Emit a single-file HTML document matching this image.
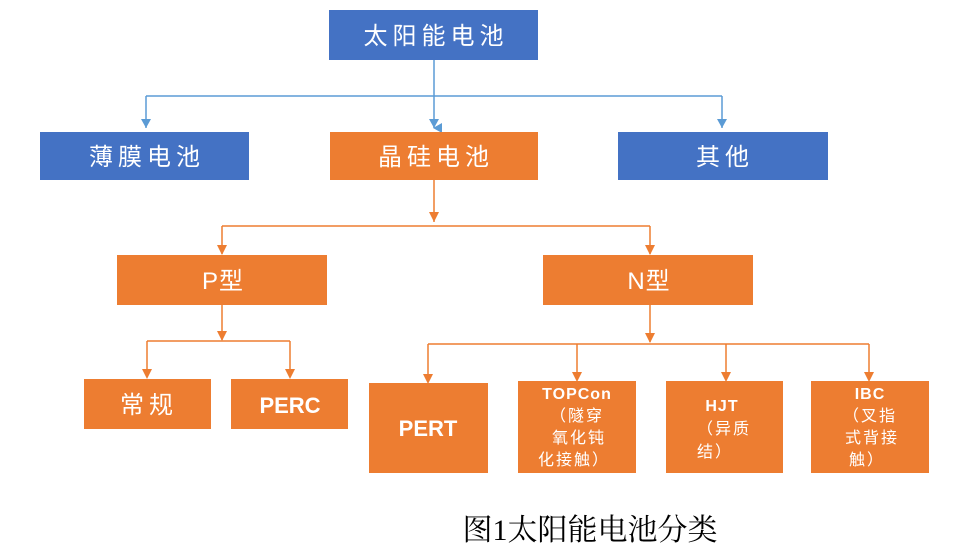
<!DOCTYPE html>
<html><head><meta charset="utf-8"><style>
html,body{margin:0;padding:0;background:#fff;}
svg{display:block}
text{font-family:"Liberation Sans","Noto Sans CJK SC",sans-serif;fill:#fff;text-anchor:middle;}
</style></head><body>
<svg width="968" height="552" viewBox="0 0 968 552" xmlns="http://www.w3.org/2000/svg">
<defs>
<marker id="ab" markerWidth="10" markerHeight="10" refX="5" refY="8" orient="auto" markerUnits="userSpaceOnUse"><path d="M0,0 L10,0 L5,9 Z" fill="#5B9BD5"/></marker>
<marker id="ao" markerWidth="10" markerHeight="10" refX="5" refY="8" orient="auto" markerUnits="userSpaceOnUse"><path d="M0,0 L10,0 L5,9 Z" fill="#ED7D31"/></marker>
</defs>
<g fill="none" stroke="#5B9BD5" stroke-width="1.5">
<path d="M434,60 V128" marker-end="url(#ab)" transform="translate(0,0)"/>
<path d="M146,96 H722"/>
<path d="M146,96 V128"/><path d="M722,96 V128"/>
</g>
<path d="M141,119 L151,119 L146,128 Z" fill="#5B9BD5"/>
<path d="M429,119 L439,119 L434,128 Z" fill="#5B9BD5"/>
<path d="M717,119 L727,119 L722,128 Z" fill="#5B9BD5"/>
<g fill="none" stroke="#ED7D31" stroke-width="1.5">
<path d="M434,180 V222"/>
<path d="M222,226 H650"/><path d="M222,226 V254"/><path d="M650,226 V254"/>
<path d="M222,305 V340"/>
<path d="M147,341 H290"/><path d="M147,341 V377"/><path d="M290,341 V377"/>
<path d="M650,305 V342"/>
<path d="M428,344 H869"/><path d="M428,344 V382"/><path d="M577,344 V380"/><path d="M726,344 V380"/><path d="M869,344 V380"/>
</g>
<g fill="#ED7D31">
<path d="M429,212 L439,212 L434,222 Z"/>
<path d="M217,245 L227,245 L222,255 Z"/><path d="M645,245 L655,245 L650,255 Z"/>
<path d="M217,331 L227,331 L222,341 Z"/>
<path d="M142,369 L152,369 L147,379 Z"/><path d="M285,369 L295,369 L290,379 Z"/>
<path d="M645,333 L655,333 L650,343 Z"/>
<path d="M423,374 L433,374 L428,384 Z"/><path d="M572,372 L582,372 L577,382 Z"/>
<path d="M721,372 L731,372 L726,382 Z"/><path d="M864,372 L874,372 L869,382 Z"/>
</g>
<rect x="329" y="10" width="209" height="50" fill="#4472C4"/>
<rect x="40" y="132" width="209" height="48" fill="#4472C4"/>
<rect x="330" y="132" width="208" height="48" fill="#ED7D31"/>
<rect x="618" y="132" width="210" height="48" fill="#4472C4"/>
<rect x="117" y="255" width="210" height="50" fill="#ED7D31"/>
<rect x="543" y="255" width="210" height="50" fill="#ED7D31"/>
<rect x="84" y="379" width="127" height="50" fill="#ED7D31"/>
<rect x="231" y="379" width="117" height="50" fill="#ED7D31"/>
<rect x="369" y="383" width="119" height="90" fill="#ED7D31"/>
<rect x="518" y="381" width="118" height="92" fill="#ED7D31"/>
<rect x="666" y="381" width="117" height="92" fill="#ED7D31"/>
<rect x="811" y="381" width="118" height="92" fill="#ED7D31"/>
<g font-size="24" letter-spacing="5">
<text x="436" y="44">太阳能电池</text>
<text x="147" y="165">薄膜电池</text>
<text x="436" y="165">晶硅电池</text>
<text x="725" y="165">其他</text>
<text x="223" y="289" letter-spacing="1">P型</text>
<text x="649" y="289" letter-spacing="1">N型</text>
<text x="149" y="413">常规</text>
</g>
<text x="290" y="413" font-size="22" font-weight="bold">PERC</text>
<text x="428" y="436" font-size="22" font-weight="bold">PERT</text>
<g font-size="16" letter-spacing="2">
<text x="577" y="399" font-weight="bold" letter-spacing="1">TOPCon</text>
<text x="577" y="421">（隧穿</text>
<text x="579" y="443">氧化钝</text>
<text x="574" y="465">化接触）</text>
<text x="722" y="411" font-weight="bold" letter-spacing="1">HJT</text>
<text x="724" y="434">（异质</text>
<text x="715" y="457">结）</text>
<text x="870" y="399" font-weight="bold" letter-spacing="1">IBC</text>
<text x="870" y="421">（叉指</text>
<text x="872" y="443">式背接</text>
<text x="867" y="465">触）</text>
</g>
<text x="590" y="540" font-size="30" style="fill:#000;font-family:'Liberation Serif','Noto Serif CJK SC',serif">图1太阳能电池分类</text>
</svg>
</body></html>
